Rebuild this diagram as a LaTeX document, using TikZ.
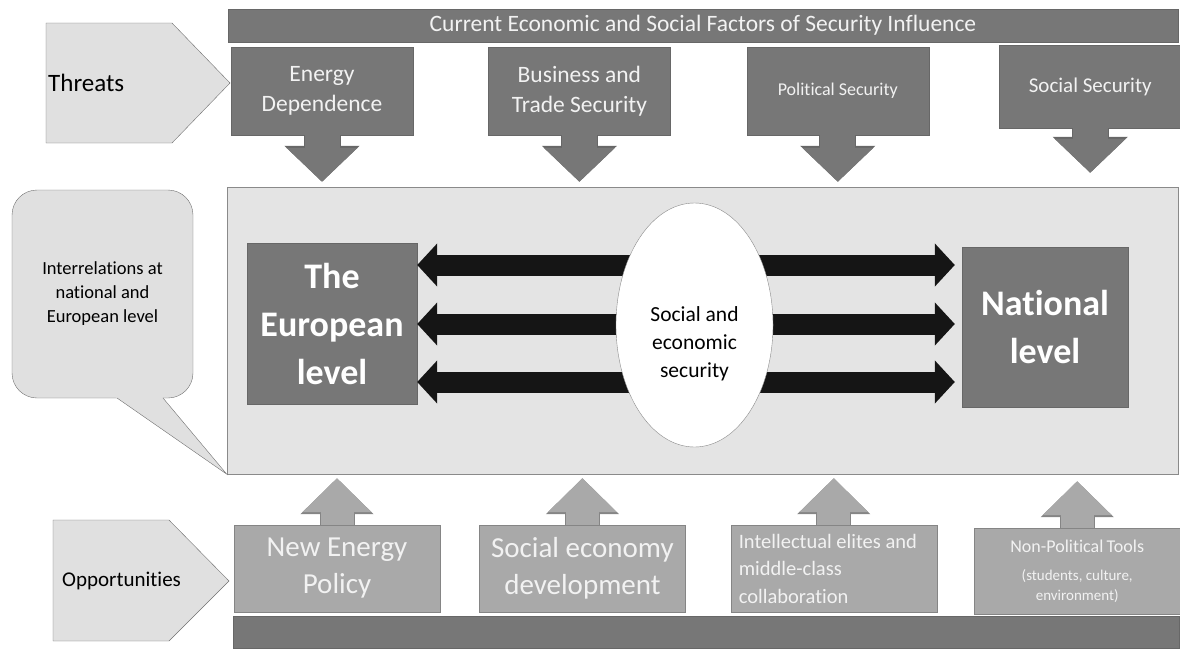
\documentclass[tikz,border=0pt]{standalone}
\usepackage{fontspec}
\setmainfont{Carlito}[Ligatures=NoCommon]
\usetikzlibrary{positioning, arrows.meta, shapes.geometric, calc}

\definecolor{darkbox}{HTML}{777777}
\definecolor{darkline}{HTML}{676767}
\definecolor{midbox}{HTML}{A9A9A9}
\definecolor{midline}{HTML}{858585}
\definecolor{paleback}{HTML}{E4E4E4}
\definecolor{paleline}{HTML}{8A8A8A}
\definecolor{tagback}{HTML}{E0E0E0}
\definecolor{tagline}{HTML}{707070}
\definecolor{whitetext}{HTML}{F2F2F2}
\definecolor{arrowblack}{HTML}{151515}

\newcommand{\fsz}[2]{\fontsize{#1}{#2}\selectfont}

\tikzset{
    threat/.style={draw=darkline, fill=darkbox, text=whitetext,
        minimum width=182pt, minimum height=88pt, inner sep=0pt, align=center},
    chance/.style={draw=midline, fill=midbox, text=whitetext,
        minimum width=206pt, minimum height=87pt, inner sep=0pt, align=center},
    bar/.style={draw=darkline, fill=darkbox, text=whitetext, inner sep=0pt},
    level/.style={draw=darkline, fill=darkbox, text=white, inner sep=0pt,
        font=\bfseries\fsz{36}{48}, align=center},
    tag/.style={draw=tagline, fill=tagback},
    downarrow/.style={draw=darkbox, line width=35pt,
        -{Triangle[length=34pt, width=69pt]},
        preaction={draw=darkline, line width=37pt, -{Triangle[length=36pt, width=73pt]}}},
    uparrow/.style={draw=midbox, line width=33pt,
        -{Triangle[length=34pt, width=67pt]},
        preaction={draw=midline, line width=35pt, -{Triangle[length=36pt, width=71pt]}}},
    twoway/.style={draw=arrowblack, line width=21pt,
        {Triangle[length=20pt, width=42pt]}-{Triangle[length=20pt, width=42pt]}}
}

\begin{document}
\begin{tikzpicture}[x=1pt, y=-1pt]
    \useasboundingbox (0,0) rectangle (1180,648);

    % threats row
    \node [bar,
    minimum width=950pt,
    minimum height=33pt,
    font=\fsz{23.5}{28}
    ] (factors) at (703,25.5) {Current Economic and Social Factors of Security Influence};

    \node [threat,
    font=\fsz{23.5}{30}
    ] (energy) at (322,91) {Energy\\Dependence};

    \node [threat,
    font=\fsz{23.5}{30},
    right=75pt of energy
    ] (business) {Business and\\Trade Security};

    \node [threat,
    font=\fsz{18}{22},
    right=76pt of business
    ] (political) {Political Security};

    \node [threat,
    font=\fsz{21}{25},
    minimum height=83pt,
    right=70pt of political.north east,
    anchor=north west,
    yshift=2pt
    ] (socsec) {Social Security};

    \draw [tag] (46,23) -- (172,23) -- (230,83) -- (172,143) -- (46,143) -- cycle;
    \node [font=\fsz{25}{30}, anchor=west, inner sep=0pt] (threats) at (48,83) {Threats};

    % middle panel
    \node [draw=paleline,
    fill=paleback,
    minimum width=951pt,
    minimum height=287pt
    ] (panel) at (702.5,330.5) {};

    \draw [downarrow] (energy) -- ($(energy |- panel.north)+(0,-5)$);
    \draw [downarrow] (business) -- ($(business |- panel.north)+(0,-5)$);
    \draw [downarrow] (political) -- ($(political |- panel.north)+(0,-5)$);
    \draw [downarrow] (socsec) -- ($(socsec |- panel.north)+(0,-14)$);

    \node [tag,
    rounded corners=25pt,
    minimum width=181pt,
    minimum height=208pt,
    font=\fsz{18.5}{24},
    align=center
    ] (note) at (102.5,294) {Interrelations at\\national and\\European level};
    \coordinate (tailA) at (117,398);
    \coordinate (tailB) at (163,398);
    \fill [tagback] ($(panel.south west)!1.06!(tailA)$) -- (panel.south west)
        -- ($(panel.south west)!1.06!(tailB)$) -- cycle;
    \draw [tagline] (tailA) -- (panel.south west) -- (tailB);

    \node [level,
    minimum width=170pt,
    minimum height=161pt
    ] (europe) at (332,323.5) {The\\European\\level};

    \node [level,
    minimum width=166pt,
    minimum height=160pt
    ] (national) at (1045,327) {National\\level};

    \coordinate (rowa) at ($(europe.east)+(0,-58.5)$);
    \coordinate (rowb) at ($(europe.east)+(0,0.5)$);
    \coordinate (rowc) at ($(europe.east)+(0,58.5)$);
    \draw [twoway, shorten >=7pt] (rowa) -- (rowa -| national.west);
    \draw [twoway, shorten >=7pt] (rowb) -- (rowb -| national.west);
    \draw [twoway, shorten >=7pt] (rowc) -- (rowc -| national.west);

    \node [draw=paleline,
    fill=white,
    ellipse,
    inner sep=0pt,
    minimum width=157pt,
    minimum height=244pt
    ] (security) at (694.5,325) {};
    \node [font=\fsz{21.5}{28}, align=center] (securitytext)
        at ($(security.center)+(0,19)$) {Social and\\economic\\security};

    % opportunities row
    \node [chance,
    font=\fsz{29}{37}
    ] (newpolicy) at (337,568.5) {New Energy\\Policy};

    \node [chance,
    font=\fsz{29}{37},
    right=39pt of newpolicy
    ] (soceco) {Social economy\\development};

    \node [chance,
    font=\fsz{20.5}{27.5},
    text width=190pt,
    align=flush left,
    right=45pt of soceco
    ] (elites) {Intellectual elites and\\middle-class\\collaboration};

    \node [chance,
    minimum height=86pt,
    text width=190pt,
    right=37pt of elites,
    yshift=-2.5pt
    ] (tools) {\fsz{18}{22}Non-Political Tools\\[8pt]{\fsz{15}{20}(students, culture,\\environment)\par}};

    \draw [uparrow] (newpolicy) -- ($(newpolicy |- panel.south)+(0,4)$);
    \draw [uparrow] (soceco) -- ($(soceco |- panel.south)+(0,4)$);
    \draw [uparrow] (elites) -- ($(elites |- panel.south)+(0,4)$);
    \draw [uparrow] (tools) -- ($(tools |- panel.south)+(0,7)$);

    \node [bar,
    minimum width=946pt,
    minimum height=32pt
    ] (basebar) at (706,632) {};

    \draw [tag] (53,520) -- (169,520) -- (229,581) -- (169,641) -- (53,641) -- cycle;
    \node [font=\fsz{21}{26}, anchor=west, inner sep=0pt] (opportunities) at (62,581) {Opportunities};
\end{tikzpicture}
\end{document}
